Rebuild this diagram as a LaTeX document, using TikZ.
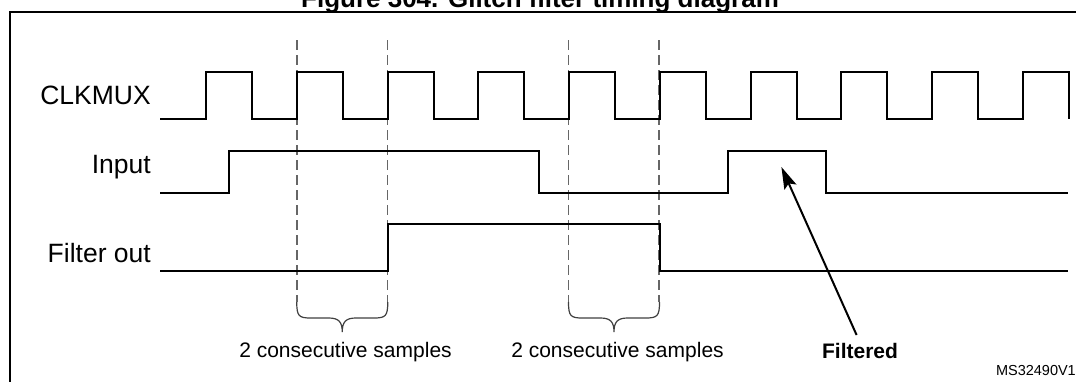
\documentclass[tikz,border=0pt]{standalone}
\usepackage{fontspec}
\setmainfont{Liberation Sans}
\usetikzlibrary{arrows.meta}
\begin{document}
\begin{tikzpicture}[x=1pt,y=-1pt,
  sig/.style={line width=2pt, line join=miter},
  guide/.style={draw=black!60, line width=1.6pt, dash pattern=on 10pt off 5pt},
  brc/.style={draw=black!75, line width=1.2pt},
  lbl/.style={font=\fontsize{26.5}{30}\selectfont, anchor=base east, inner sep=0pt},
  note/.style={font=\fontsize{21}{25}\selectfont, anchor=base, inner sep=0pt},
  sbrace/.pic={\draw[brc] (0,0) .. controls (0,14) and (2,16) .. (14,16) -- (32,16)
      .. controls (42,16) and (45.5,20) .. (45.5,30)
      .. controls (45.5,20) and (49,16) .. (59,16) -- (77,16)
      .. controls (89,16) and (91,14) .. (91,0);},
]
\useasboundingbox (0,0) rectangle (1076,381);
\fill[white] (0,0) rectangle (1076,381);
% title (cropped at the top edge, as in the reference)
\node[font=\bfseries\fontsize{26}{30}\selectfont, anchor=base, inner sep=0pt] (title) at (540,7) {Figure 304. Glitch filter timing diagram};
% frame
\draw[line width=2.5pt] (10,390) -- (10,12) -- (1090,12);
% signal labels
\node[lbl] (clk) at (151,104.7) {CLKMUX};
\node[lbl] (inp) at (151,173.6) {Input};
\node[lbl] (fout) at (151,262.5) {Filter out};
% dashed sample guides
\coordinate (d1t) at (296.75,40); \coordinate (d1b) at (296.75,302);
\coordinate (d2t) at (387.5,40);  \coordinate (d2b) at (387.5,302);
\coordinate (d3t) at (568.5,40);  \coordinate (d3b) at (568.5,302);
\coordinate (d4t) at (659.25,40); \coordinate (d4b) at (659.25,302);
\draw[guide] (d1t) -- (d1b);
\draw[guide] (d2t) -- (d2b);
\draw[guide] (d3t) -- (d3b);
\draw[guide] (d4t) -- (d4b);
% clock
\draw[sig] (160,119) foreach \i in {0,...,9} {
  -- ({206+90.75*\i},119) -- ({206+90.75*\i},72) -- ({252+90.75*\i},72) -- ({252+90.75*\i},119) };
% input
\draw[sig] (160,193) -- (229,193) -- (229,151) -- (538.7,151) -- (538.7,193)
  -- (727.8,193) -- (727.8,151) -- (826.3,151) -- (826.3,193) -- (1068,193);
% filter out
\draw[sig] (160,270.7) -- (388.2,270.7) -- (388.2,224) -- (659.6,224) -- (659.6,270.7) -- (1068,270.7);
% braces
\pic at (d1b) {sbrace};
\pic at (d3b) {sbrace};
\node[note] (s1) at (345.5,357) {2 consecutive samples};
\node[note] (s2) at (617.5,357) {2 consecutive samples};
% filtered annotation
\node[note, font=\bfseries\fontsize{21}{25}\selectfont] (filt) at (860,358) {Filtered};
\coordinate (tail) at (856.6,335);
\coordinate (tip) at (781.4,167);
\draw[line width=2pt, -{Stealth[length=22pt,width=13pt,inset=4pt]}] (tail) -- (tip);
% reference code
\node[font=\fontsize{14.5}{17}\selectfont, anchor=base east, inner sep=0pt] (code) at (1076,375.5) {MS32490V1};
\end{tikzpicture}
\end{document}
